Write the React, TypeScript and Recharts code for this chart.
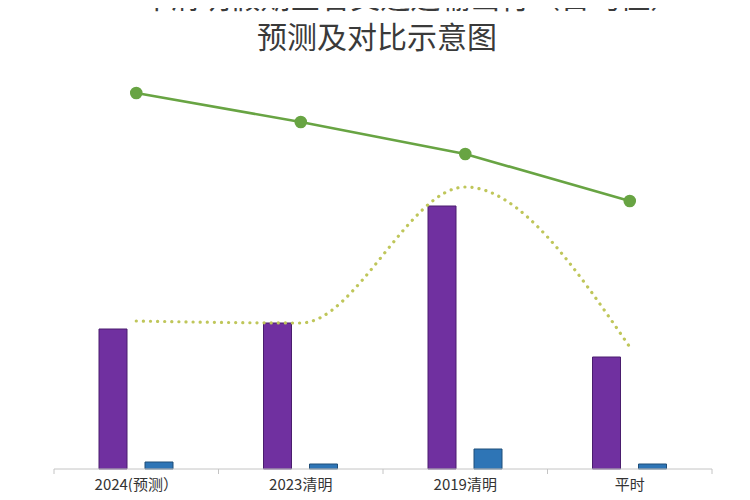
import React from "react";
import { ComposedChart, Bar, Line, XAxis, YAxis } from "recharts";

// categories and series
const categories = ["2024(预测）", "2023清明", "2019清明", "平时"];
const purpleValues = [140, 146, 263, 112];
const blueValues = [7, 5, 20, 5];
const greenValues = [376, 347, 315, 268];
const yellowValues = [148, 146, 282, 122];

const data = categories.map((name, i) => ({
  name,
  purple: purpleValues[i],
  blue: blueValues[i],
  green: greenValues[i],
  yellow: yellowValues[i],
}));

const titleFont = '"Noto Sans CJK SC", "Noto Sans", sans-serif';
const TICK_SIZE = 4;
const TICK_MARGIN = 6;
const AXIS_COLOR = "#c4c4c4";

// label plus the small tick marks on the category boundaries
function CategoryTick(props: any) {
  const { x, y, payload, index, visibleTicksCount } = props;
  const axisY = y - TICK_SIZE - TICK_MARGIN;
  const half = payload && payload.offset ? payload.offset : 82;
  const isLast = index === visibleTicksCount - 1;
  return (
    <g>
      <line x1={x - half} x2={x - half} y1={axisY} y2={axisY + 5} stroke={AXIS_COLOR} />
      {isLast && (
        <line x1={x + half} x2={x + half} y1={axisY} y2={axisY + 5} stroke={AXIS_COLOR} />
      )}
      <text
        x={x}
        y={y}
        dy="0.71em"
        textAnchor="middle"
        fontSize={15}
        fill="#333333"
        fontFamily={titleFont}
      >
        {payload.value}
      </text>
    </g>
  );
}

const titleLine = {
  position: "absolute" as const,
  left: 0,
  width: 754,
  textAlign: "center" as const,
  fontSize: 30,
  lineHeight: "34px",
  color: "#3a3a3a",
  whiteSpace: "nowrap" as const,
};

export default function App() {
  return (
    <div
      style={{
        position: "relative",
        width: 750,
        height: 500,
        margin: -8,
        overflow: "hidden",
        background: "#ffffff",
        fontFamily: titleFont,
      }}
    >
      <div style={{ ...titleLine, top: -22 }}>2024年清明假期全省交通运输出行（日均值）</div>
      <div style={{ ...titleLine, top: 18 }}>预测及对比示意图</div>
      <div style={{ position: "absolute", top: 0, left: 0 }}>
        <ComposedChart
          width={750}
          height={500}
          data={data}
          margin={{ top: 69, right: 38, bottom: 0, left: 54 }}
          barSize={28}
          barGap={18}
        >
          <XAxis
            dataKey="name"
            stroke={AXIS_COLOR}
            tickLine={false}
            tickSize={TICK_SIZE}
            tickMargin={TICK_MARGIN}
            height={31}
            interval={0}
            tick={<CategoryTick />}
          />
          <YAxis hide domain={[0, 400]} />
          <Bar
            dataKey="purple"
            fill="#7030a0"
            stroke="#4a1d6e"
            strokeWidth={1}
            isAnimationActive={false}
          />
          <Bar
            dataKey="blue"
            fill="#2e75b6"
            stroke="#1f4e79"
            strokeWidth={1}
            isAnimationActive={false}
          />
          <Line
            type="monotone"
            dataKey="yellow"
            stroke="#bfc65a"
            strokeWidth={3.2}
            strokeDasharray="0.1 7"
            strokeLinecap="round"
            dot={false}
            isAnimationActive={false}
          />
          <Line
            type="linear"
            dataKey="green"
            stroke="#68a443"
            strokeWidth={2.6}
            dot={{ r: 5, fill: "#68a443", stroke: "#68a443" }}
            isAnimationActive={false}
          />
        </ComposedChart>
      </div>
    </div>
  );
}
